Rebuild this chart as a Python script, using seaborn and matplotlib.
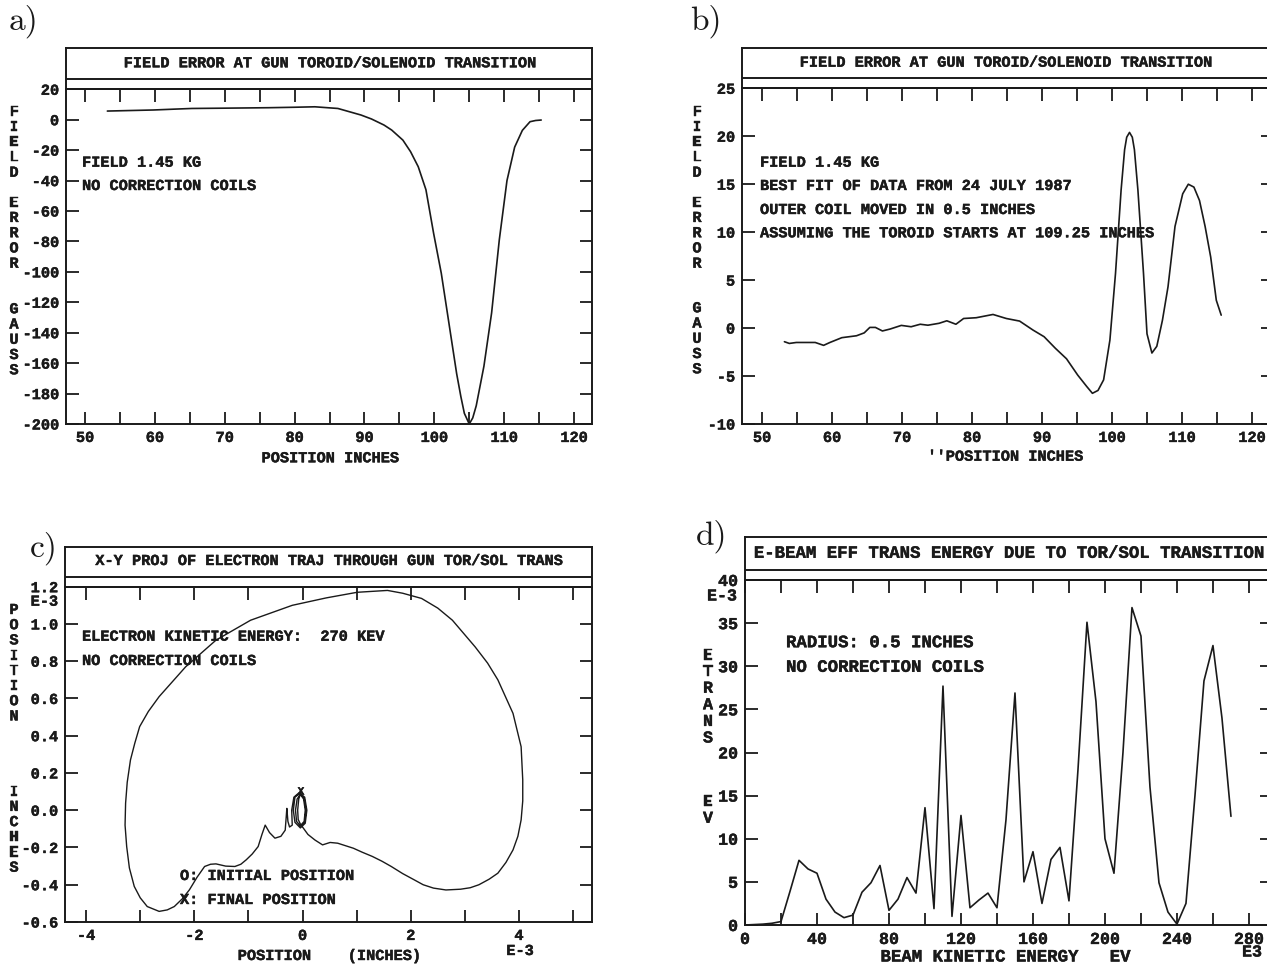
import matplotlib
matplotlib.use("Agg")
import matplotlib.pyplot as plt
import matplotlib.patheffects as pe
import seaborn as sns
import pandas as pd

# ---------------- data ----------------
# a) field error, no correction coils
a_pos = [53.2, 56.0, 59.8, 63.0, 65.3, 70.0, 76.3, 80.0, 82.9, 86.2, 89.5, 91.0, 92.8, 93.9, 95.5,
         96.6, 97.7, 98.8, 99.9, 101.0, 102.1, 103.2, 103.8, 104.3, 105.0, 105.5, 106.0, 107.1,
         108.2, 109.3, 110.4, 111.5, 112.6, 113.7, 114.5, 115.3]
a_err = [5.7, 6.0, 6.4, 7.0, 7.4, 7.6, 7.9, 8.2, 8.5, 7.4, 3.1, 0.5, -3.5, -6.8, -13.4,
         -21, -30.9, -46, -74.7, -101, -134, -167, -182, -193, -200, -196, -188, -162,
         -127, -79, -40, -18, -7, -1.3, -0.5, -0.2]

# b) best fit of data
b_pos = [53.2, 53.9, 54.9, 57.6, 58.8, 59.7, 61.4, 63.5, 64.6, 65.4, 66.2, 67.2, 68.3, 69.9, 71.3,
         72.6, 73.7, 75.3, 76.4, 77.7, 78.8, 80.6, 83.0, 84.9, 86.8, 88.7, 90.3, 91.9, 93.5, 95.1,
         96.4, 97.2, 98.0, 98.8, 99.7, 100.5, 101.3, 101.8, 102.1, 102.5, 102.9, 103.2, 103.7,
         104.5, 105.0, 105.7, 106.4, 107.2, 108.0, 109.0, 110.1, 110.9, 111.7, 112.5, 113.3,
         114.1, 114.9, 115.6]
b_err = [-1.42, -1.6, -1.5, -1.5, -1.8, -1.5, -1.0, -0.8, -0.5, 0.07, 0.07, -0.3, -0.1, 0.28, 0.14,
         0.4, 0.3, 0.5, 0.76, 0.4, 1.0, 1.08, 1.42, 1.0, 0.73, -0.2, -0.9, -2.1, -3.2, -4.9,
         -6.1, -6.8, -6.5, -5.4, -1.25, 5.7, 14.4, 18.6, 19.9, 20.4, 19.9, 18.6, 14.4,
         5.7, -0.6, -2.6, -1.9, 0.8, 4.3, 10.6, 14.0, 15.0, 14.7, 13.3, 10.6,
         7.4, 2.9, 1.35]

# c) x-y projection of trajectory (units of 1e-3 inch)
c_x = [0.0, 0.1, 0.23, 0.37, 0.51, 0.65, 0.94, 1.1, 1.29, 1.47, 1.64, 1.85, 2.06, 2.23, 2.42,
       2.65, 2.92, 3.1, 3.26, 3.45, 3.61, 3.76, 3.89, 3.98, 4.04, 4.07, 4.07, 4.04, 3.89,
       3.61, 3.42, 3.19, 2.77, 2.5, 2.2, 1.85, 1.57, 1.01, 0.44, -0.19, -0.96, -1.6, -2.16,
       -2.65, -2.85, -3.01, -3.1, -3.18, -3.24, -3.27, -3.28, -3.25, -3.2, -3.11, -3.0,
       -2.87, -2.65, -2.5, -2.37, -2.22, -2.09, -1.95, -1.81, -1.7, -1.6, -1.42, -1.25,
       -1.14, -1.04, -0.93, -0.82, -0.75, -0.69, -0.61, -0.51, -0.4, -0.32, -0.3, -0.29,
       -0.27, -0.24, -0.19, -0.2, -0.16, -0.06, 0.04, 0.08, 0.05, -0.04, -0.14, -0.17,
       -0.14, -0.05, 0.03, 0.065, 0.04, -0.04, -0.11, -0.13, -0.1, -0.04, 0.02, 0.05,
       0.03, -0.03, -0.08, -0.09, -0.07, -0.03]
c_y = [-0.09, -0.13, -0.16, -0.186, -0.173, -0.177, -0.204, -0.225, -0.248, -0.274, -0.302,
       -0.34, -0.373, -0.4, -0.418, -0.428, -0.424, -0.416, -0.40, -0.37, -0.338, -0.28,
       -0.213, -0.14, -0.052, 0.05, 0.163, 0.341, 0.52, 0.70, 0.79, 0.877, 1.02, 1.085,
       1.137, 1.165, 1.18, 1.17, 1.14, 1.10, 1.02, 0.913, 0.77, 0.61, 0.53, 0.449, 0.36,
       0.27, 0.15, 0.038, -0.08, -0.195, -0.31, -0.409, -0.47, -0.517, -0.543, -0.535,
       -0.517, -0.475, -0.427, -0.36, -0.302, -0.29, -0.288, -0.30, -0.302, -0.29, -0.266,
       -0.235, -0.195, -0.13, -0.08, -0.12, -0.15, -0.14, -0.107, -0.03, 0.01, -0.06, -0.09,
       -0.08, 0.0, 0.07, 0.095, 0.07, 0.0, -0.07, -0.095, -0.065, 0.0, 0.07, 0.09, 0.065,
       0.0, -0.065, -0.085, -0.06, 0.0, 0.06, 0.085, 0.06, 0.0, -0.06, -0.08, -0.05, 0.0,
       0.06, 0.095]
c_final = (-0.03, 0.1)

# d) effective transverse energy vs beam kinetic energy (keV)
d_kev = [0, 5, 10, 15, 20, 25, 30, 35, 40, 45, 50, 55, 60, 65, 70, 75, 80, 85, 90, 95, 100,
         105, 110, 115, 120, 125, 130, 135, 140, 145, 150, 155, 160, 165, 170, 175, 180, 185,
         190, 195, 200, 205, 210, 215, 220, 225, 230, 235, 240, 245, 250, 255, 260, 265, 270]
d_etrans = [0.0, 0.05, 0.1, 0.2, 0.4, 3.9, 7.5, 6.5, 6.0, 3.0, 1.5, 0.85, 1.15, 3.8, 4.9, 6.9,
            1.7, 3.0, 5.5, 3.7, 13.6, 1.9, 27.7, 1.0, 12.7, 2.0, 2.9, 3.7, 2.0, 12.2, 26.9,
            5.0, 8.5, 2.5, 7.6, 9.0, 2.8, 18.0, 35.1, 25.9, 10.0, 6.0, 20.0, 36.8, 33.5, 16.0,
            4.9, 1.5, 0.1, 2.5, 15.0, 28.3, 32.4, 24.0, 12.6]

# ---------------- style ----------------
sns.set_theme(style="white")
plt.rcParams['font.family'] = ['Liberation Mono', 'DejaVu Sans Mono']
plt.rcParams['font.weight'] = 'bold'
plt.rcParams['axes.unicode_minus'] = False

W, H = 1267, 966
fig = plt.figure(figsize=(W / 100, H / 100), dpi=100)
fig.patch.set_facecolor('white')
LW = 1.4
CLW = 1.2
FS = 11
HEAVY = [pe.withStroke(linewidth=0.3, foreground='k')]


def rect(l, r, t, b):
    return [l / W, 1 - b / H, (r - l) / W, (b - t) / H]


def ptext(x, y, s, fs=FS, ha='left', va='center', weight='bold', heavy=True, **kw):
    t = fig.text(x / W, 1 - y / H, s, ha=ha, va=va, fontsize=fs, fontweight=weight, color='k', **kw)
    if heavy:
        t.set_path_effects(HEAVY)
    return t


def vtext(x, y0, step, word, fs=FS):
    for i, ch in enumerate(word):
        ptext(x, y0 + i * step, ch, fs=fs, ha='center')


def heavy_ticks(ax):
    for lab in ax.get_xticklabels() + ax.get_yticklabels():
        lab.set_path_effects(HEAVY)


def panel(l, r, t_title, t_line, top, bottom, title, title_x, title_y, fs=FS):
    ax = fig.add_axes(rect(l, r, top, bottom))
    axt = fig.add_axes(rect(l, r, t_title, top))
    axt.set_xticks([])
    axt.set_yticks([])
    axt.set_xlim(0, 1)
    axt.set_ylim(0, 1)
    axt.axhline((top - t_line) / (top - t_title), color='k', lw=LW)
    for s in list(axt.spines.values()) + list(ax.spines.values()):
        s.set_linewidth(LW)
        s.set_color('k')
        s.set_visible(True)
    axt.patch.set_alpha(0)
    ptext(title_x, title_y, title, fs=fs, ha='center')
    ax.tick_params(which='both', direction='in', top=True, bottom=True, left=True, right=True,
                   labeltop=False, labelright=False, color='k', width=1.3, labelsize=fs,
                   labelcolor='k')
    ax.tick_params(axis='x', length=9, pad=5)
    ax.tick_params(axis='y', length=9, pad=5)
    ax.grid(False)
    return ax


# ---------------- panel a ----------------
ax = panel(66, 592, 48.3, 79, 89.3, 424, "FIELD ERROR AT GUN TOROID/SOLENOID TRANSITION", 329, 63.3)
sns.lineplot(x=a_pos, y=a_err, ax=ax, color='k', lw=CLW, sort=False, estimator=None)
ax.set_xlim(47.28, 122.57)
ax.set_ylim(-200, 20)
xt = list(range(50, 121, 5))
ax.set_xticks(xt)
ax.set_xticklabels([str(v) if v % 10 == 0 else '' for v in xt])
yt = list(range(-200, 21, 20))
ax.set_yticks(yt)
ax.set_yticklabels([str(v) for v in yt])
ax.set_xlabel('')
ax.set_ylabel('')
heavy_ticks(ax)
ptext(82, 162.7, "FIELD 1.45 KG")
ptext(82, 186, "NO CORRECTION COILS")
ptext(330, 458.3, "POSITION INCHES", ha='center')
vtext(14, 111.7, 15.25, "FIELD")
vtext(14, 202.7, 15.25, "ERROR")
vtext(14, 309.3, 15.25, "GAUSS")
ptext(23, 21, "a)", fs=24, ha='center', family='cmr10', weight='normal', heavy=False)

# ---------------- panel b ----------------
ax = panel(742, 1273, 48.3, 78.3, 88.3, 424, "FIELD ERROR AT GUN TOROID/SOLENOID TRANSITION", 1005, 62.7)
sns.lineplot(x=b_pos, y=b_err, ax=ax, color='k', lw=CLW, sort=False, estimator=None)
ax.set_xlim(47.14, 123.0)
ax.set_ylim(-10, 25)
ax.set_xticks(xt)
ax.set_xticklabels([str(v) if v % 10 == 0 else '' for v in xt])
ytb = list(range(-10, 26, 5))
ax.set_yticks(ytb)
ax.set_yticklabels([str(v) for v in ytb])
ax.set_xlabel('')
ax.set_ylabel('')
heavy_ticks(ax)
ptext(760, 162.7, "FIELD 1.45 KG")
ptext(760, 186, "BEST FIT OF DATA FROM 24 JULY 1987")
ptext(760, 210, "OUTER COIL MOVED IN 0.5 INCHES")
ptext(760, 233.3, "ASSUMING THE TOROID STARTS AT 109.25 INCHES")
ptext(1005, 456.7, "''POSITION INCHES", ha='center')
vtext(697, 111.7, 15.25, "FIELD")
vtext(697, 202.7, 15.25, "ERROR")
vtext(697, 308.3, 15.25, "GAUSS")
ptext(706, 21, "b)", fs=24, ha='center', family='cmr10', weight='normal', heavy=False)

# ---------------- panel c ----------------
ax = panel(65, 592, 547.3, 576.7, 586.7, 922, "X-Y PROJ OF ELECTRON TRAJ THROUGH GUN TOR/SOL TRANS", 328, 561)
sns.lineplot(x=c_x, y=c_y, ax=ax, color='k', lw=1.0, sort=False, estimator=None)
xm = ax.text(c_final[0], c_final[1], "X", ha='center', va='center', fontsize=8, fontweight='bold', color='k')
xm.set_path_effects(HEAVY)
ax.set_xlim(-4.39, 5.35)
ax.set_ylim(-0.6, 1.2)
xtc = [-4, -3, -2, -1, 0, 1, 2, 3, 4, 5]
ax.set_xticks(xtc)
ax.set_xticklabels([str(v) if (v % 2 == 0 and v < 5) else '' for v in xtc])
ytc = [-0.6, -0.4, -0.2, 0.0, 0.2, 0.4, 0.6, 0.8, 1.0, 1.2]
ax.set_yticks(ytc)
ax.set_yticklabels([f"{v:.1f}" for v in ytc])
ax.set_xlabel('')
ax.set_ylabel('')
heavy_ticks(ax)
ptext(58, 601.7, "E-3", ha='right')
ptext(82, 636.7, "ELECTRON KINETIC ENERGY:  270 KEV")
ptext(82, 661, "NO CORRECTION COILS")
ptext(180, 876, "O: INITIAL POSITION")
ptext(180, 900, "X: FINAL POSITION")
ptext(329, 956, "POSITION    (INCHES)", ha='center')
ptext(520, 951, "E-3", ha='center')
vtext(14, 610, 15.2, "POSITION")
vtext(14, 791.7, 15.2, "INCHES")
ptext(44, 548, "c)", fs=24, ha='center', family='cmr10', weight='normal', heavy=False)

# ---------------- panel d ----------------
FSD = 12.5
ax = panel(745, 1272, 537.3, 570, 580, 925, "E-BEAM EFF TRANS ENERGY DUE TO TOR/SOL TRANSITION", 1008, 553.3, fs=FSD)
sns.lineplot(x=d_kev, y=d_etrans, ax=ax, color='k', lw=CLW, sort=False, estimator=None)
ax.set_xlim(0, 292.8)
ax.set_ylim(0, 40)
xtd = list(range(0, 281, 20))
ax.set_xticks(xtd)
ax.set_xticklabels([str(v) if v % 40 == 0 or v == 280 else '' for v in xtd])
ytd = list(range(0, 41, 5))
ax.set_yticks(ytd)
ax.set_yticklabels([str(v) for v in ytd])
ax.set_xlabel('')
ax.set_ylabel('')
ax.tick_params(labelsize=FSD - 0.5)
heavy_ticks(ax)
ptext(737, 596, "E-3", fs=FSD - 0.5, ha='right')
ptext(786, 642.7, "RADIUS: 0.5 INCHES", fs=FSD)
ptext(786, 667.3, "NO CORRECTION COILS", fs=FSD)
ptext(1005, 957, "BEAM KINETIC ENERGY   EV", fs=FSD, ha='center')
ptext(1252, 952, "E3", fs=FSD - 0.5, ha='center')
vtext(708, 655, 16.6, "ETRANS", fs=FSD - 0.5)
vtext(708, 801.7, 16.6, "EV", fs=FSD - 0.5)
ptext(712, 536, "d)", fs=24, ha='center', family='cmr10', weight='normal', heavy=False)

fig.savefig("out.png", dpi=100, facecolor='white')
